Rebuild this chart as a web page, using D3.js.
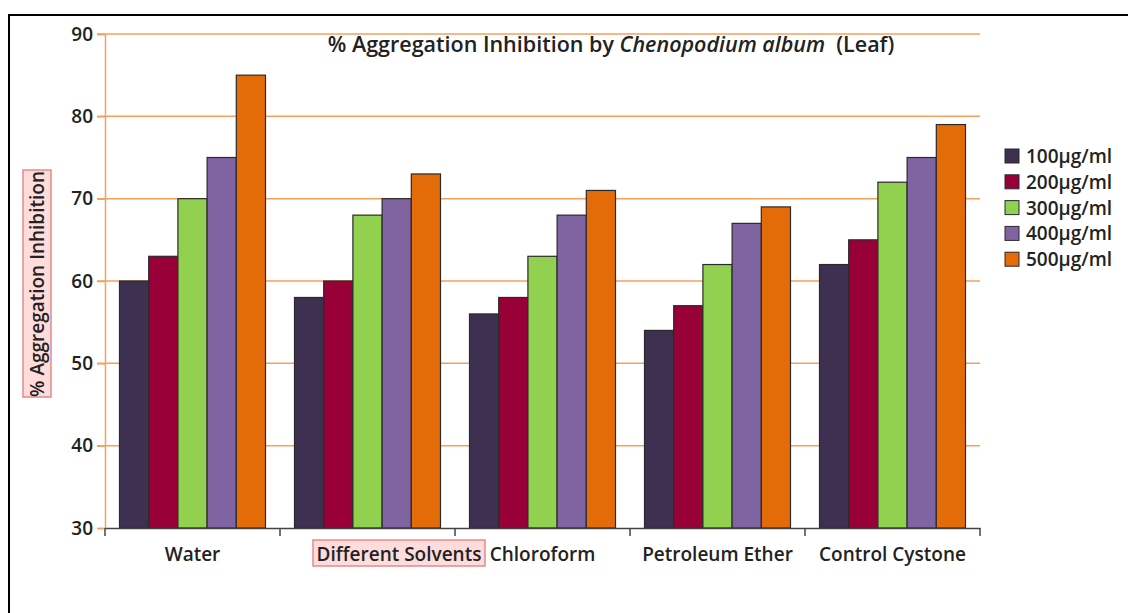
<!DOCTYPE html>
<html lang="en">
<head>
<meta charset="UTF-8">
<title>Aggregation Inhibition</title>
<script src="https://cdn.jsdelivr.net/npm/d3@7"></script>
<style>
    body { margin: 0; background: #fff; }
    text { font-family: "Open Sans", sans-serif; fill: #222; font-weight: 600; }
    .axis text { font-size: 19px; font-family: "Open Sans", sans-serif; fill: #222; }
</style>
</head>
<body>
<div id="output"></div>
<script>

var categories = ["Water", "Solvents", "Chloroform", "Petroleum Ether", "Control Cystone"];
var tickLabels = ["Water", "", "Chloroform", "Petroleum Ether", "Control Cystone"];
var series = ["100µg/ml", "200µg/ml", "300µg/ml", "400µg/ml", "500µg/ml"];
var values100 = [60, 58, 56, 54, 62];
var values200 = [63, 60, 58, 57, 65];
var values300 = [70, 68, 63, 62, 72];
var values400 = [75, 70, 68, 67, 75];
var values500 = [85, 73, 71, 69, 79];
var yTicks = [30, 40, 50, 60, 70, 80, 90];
var colors = ["#3d3050", "#990038", "#92d050", "#8064a2", "#e36c09"];

var allValues = [values100, values200, values300, values400, values500];

var w = 1128;
var h = 613;

var svg = d3.select("#output")
    .append("svg")
    .attr("width", w)
    .attr("height", h);

// frame
svg.append("path")
    .attr("d", "M9,613 V15 H1128")
    .attr("fill", "none")
    .attr("stroke", "#000")
    .attr("stroke-width", 2);

var xScale = d3.scaleBand()
    .domain(d3.range(categories.length))
    .range([105, 980])
    .padding(0);

var inner = d3.scaleBand()
    .domain(d3.range(series.length))
    .range([14.5, xScale.bandwidth() - 14.5])
    .padding(0);

var yScale = d3.scaleLinear()
    .domain([30, 90])
    .range([528, 34]);

// grid
svg.append("g")
    .selectAll("line")
    .data(yTicks.slice(1))
    .enter()
    .append("line")
    .attr("x1", 97)
    .attr("x2", 980)
    .attr("y1", function(d){ return yScale(d); })
    .attr("y2", function(d){ return yScale(d); })
    .attr("stroke", "#f5a15e")
    .attr("stroke-width", 1.5);

// y axis
var yAxis = svg.append("g")
    .attr("class", "axis")
    .attr("transform", "translate(105,0)")
    .call(d3.axisLeft(yScale).tickValues(yTicks).tickSize(8).tickPadding(4));
yAxis.select(".domain").attr("stroke", "#f5a15e").attr("stroke-width", 1.5);
yAxis.selectAll(".tick line").attr("stroke", "#f5a15e").attr("stroke-width", 1.5);

// bars
var groups = svg.append("g")
    .selectAll("g")
    .data(categories)
    .enter()
    .append("g")
    .attr("transform", function(d, i){ return "translate(" + xScale(i) + ",0)"; });

groups.selectAll("rect")
    .data(function(d, i){ return allValues.map(function(s){ return s[i]; }); })
    .enter()
    .append("rect")
    .attr("x", function(d, j){ return inner(j); })
    .attr("y", function(d){ return yScale(d); })
    .attr("width", inner.bandwidth())
    .attr("height", function(d){ return yScale(30) - yScale(d); })
    .attr("fill", function(d, j){ return colors[j]; })
    .attr("stroke", "#2a2a2a")
    .attr("stroke-width", 1.2);

// x axis
var xAxis = svg.append("g")
    .attr("class", "axis")
    .attr("transform", "translate(0,528)")
    .call(d3.axisBottom(xScale).tickSize(0).tickPadding(0)
        .tickFormat(function(d){ return tickLabels[d]; }));
xAxis.select(".domain").attr("stroke", "#444").attr("stroke-width", 1.5);
xAxis.selectAll(".tick text").attr("y", 33).attr("dy", 0);

svg.append("g")
    .selectAll("line")
    .data(d3.range(categories.length + 1))
    .enter()
    .append("line")
    .attr("x1", function(d){ return 105 + d * xScale.step(); })
    .attr("x2", function(d){ return 105 + d * xScale.step(); })
    .attr("y1", 528)
    .attr("y2", 536)
    .attr("stroke", "#444")
    .attr("stroke-width", 1.5);

// title
var title = svg.append("text")
    .attr("x", 611)
    .attr("y", 52)
    .attr("text-anchor", "middle")
    .attr("font-size", "21.5px");
title.append("tspan").text("% Aggregation Inhibition by ");
title.append("tspan").attr("font-style", "italic").text("Chenopodium album");
title.append("tspan").text("\u00a0\u00a0(Leaf)");

// axis titles with highlight box
svg.append("rect")
    .attr("x", 313).attr("y", 540)
    .attr("width", 172).attr("height", 26)
    .attr("fill", "#ffdcdc")
    .attr("stroke", "#e58a8a")
    .attr("stroke-width", 1.5);
svg.append("text")
    .attr("x", 399)
    .attr("y", 561)
    .attr("text-anchor", "middle")
    .attr("font-size", "19px")
    .text("Different Solvents");

svg.append("rect")
    .attr("x", 23).attr("y", 170)
    .attr("width", 28).attr("height", 227)
    .attr("fill", "#ffdcdc")
    .attr("stroke", "#e58a8a")
    .attr("stroke-width", 1.5);
svg.append("text")
    .attr("transform", "translate(44,284) rotate(-90)")
    .attr("text-anchor", "middle")
    .attr("font-size", "19px")
    .text("% Aggregation Inhibition");

// legend
var legend = svg.append("g")
    .selectAll("g")
    .data(series)
    .enter()
    .append("g")
    .attr("transform", function(d, i){ return "translate(1005," + (149 + i * 25.8) + ")"; });

legend.append("rect")
    .attr("width", 14)
    .attr("height", 14)
    .attr("fill", function(d, i){ return colors[i]; })
    .attr("stroke", "#2a2a2a")
    .attr("stroke-width", 1);

legend.append("text")
    .attr("x", 21)
    .attr("y", 14)
    .attr("font-size", "19px")
    .text(function(d){ return d; });

</script>
</body>
</html>
